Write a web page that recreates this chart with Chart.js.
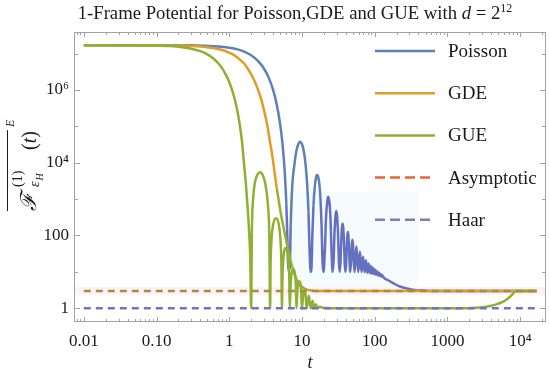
<!DOCTYPE html>
<html>
<head>
<meta charset="utf-8">
<script src="https://cdn.jsdelivr.net/npm/chart.js@4.4.0/dist/chart.umd.min.js"></script>
<style>
  html, body { margin: 0; padding: 0; background: #fff; }
  canvas { display: block; }
</style>
</head>
<body>
<canvas id="chart" width="550" height="381"></canvas>
<script>
// values (t on a log axis, F on a log axis)
const poissonT = [0.01, 0.1, 0.3, 0.5, 0.7, 1.0, 1.3, 1.6, 2.0, 2.5, 3.0, 3.5, 4.0, 4.5, 5.0, 5.4, 5.8, 6.1, 6.3, 6.45, 6.6,
  6.8, 7.0, 7.36, 7.8, 8.4, 9.0, 9.44, 10.0, 10.6, 11.2, 11.8, 12.3, 12.7, 13.2,
  13.5, 13.9, 14.4, 15.0, 15.6, 16.2, 16.8, 17.4, 18.0, 18.6, 19.2, 19.8,
  20.6, 21.45, 22.3, 22.9, 23.9, 24.75, 25.6, 26.4,
  27.2, 28.05, 28.9, 29.6, 30.4, 31.3, 32.2, 33,
  33.8, 34.65, 35.4, 36.2, 37.0, 37.9, 38.8, 39.6,
  40.4, 41.2, 42.0, 42.8, 43.6, 44.5, 45.4, 46.2,
  47.8, 48.6, 49.4, 50.3, 51.3, 52.8,
  54.4, 56.0, 57.7, 59.4,
  61.0, 62.6, 64.3, 66,
  69.2, 72.6, 75.8, 79.2, 82.4, 85.8, 89.0, 92.4, 95.6, 99, 102.3, 105.6, 108.9, 112.2,
  115.5, 118.8, 122.1, 125.4, 128.7, 132,
  150, 180, 220, 280, 350, 500, 800, 17000];
const poissonV = [1.68e7, 1.68e7, 1.675e7, 1.62e7, 1.56e7, 1.44e7, 1.30e7, 1.13e7, 9.0e6, 6.2e6, 3.87e6, 2.14e6, 1.02e6, 4.0e5, 1.19e5, 3.3e4, 5500, 720, 85, 16, 11,
  14, 180, 2400, 7600, 21500, 34000, 37400, 32600, 20700, 9100, 2450, 430, 45, 10,
  12, 100, 660, 2160, 3900, 4560, 3930, 2450, 940, 190, 18, 10,
  35, 330, 880, 1160, 800, 270, 30, 10,
  19, 125, 340, 470, 340, 120, 19, 10,
  17, 65, 160, 210, 160, 62, 16, 10,
  15, 40, 95, 125, 95, 40, 14, 10,
  27, 60, 75, 58, 25, 10,
  22, 50, 22, 10,
  19, 36, 19, 10,
  26, 9.8, 21, 9.5, 17, 9.2, 14.5, 8.9, 12.8, 8.6, 11.5, 8.3, 10.3, 8.0,
  9.4, 7.7, 8.6, 7.4, 7.9, 7.1,
  6.0, 4.9, 4.0, 3.5, 3.2, 3.05, 3.0, 3.0];

const gdeT = [0.01, 0.2, 0.4, 0.6, 0.8, 1.0, 1.2, 1.4, 1.6, 1.8, 2.0, 2.2, 2.4, 2.7, 3.0, 3.3, 3.6, 3.9, 4.2, 4.5,
  4.8, 5.1, 5.6, 6.0, 6.5, 7.0, 7.5, 8.0, 8.5, 9.5, 10.5, 12, 14, 17, 17000];
const gdeV = [1.68e7, 1.65e7, 1.56e7, 1.42e7, 1.25e7, 1.06e7, 8.7e6, 6.8e6, 5.3e6, 3.8e6, 2.7e6, 1.85e6, 1.23e6, 6.2e5, 2.8e5, 1.2e5, 4.2e4, 1.6e4, 5500, 2000,
  900, 420, 160, 80, 38, 20, 12, 8, 6, 4.3, 3.6, 3.2, 3.05, 3.0, 3.0];

const gueT = [0.01, 0.03, 0.06, 0.1, 0.15, 0.2, 0.3, 0.4, 0.5, 0.6, 0.7, 0.8, 0.9, 1.0, 1.1, 1.2, 1.3, 1.4, 1.5, 1.6, 1.7, 1.8, 1.88, 1.95, 2.0,
  2.05, 2.12, 2.25, 2.45, 2.65, 2.9, 3.15, 3.4, 3.55, 3.65,
  3.7, 3.8, 4.0, 4.4, 4.8, 5.05, 5.22, 5.3,
  5.4, 5.6, 6.0, 6.4, 6.7, 6.8,
  7.0, 7.2, 7.6, 8.0, 8.25, 8.4,
  8.7, 9.2, 9.7, 10.0, 10.4, 10.8, 11.2, 11.6, 12.4, 13.2, 14.0, 14.8, 15.6, 16.4, 17.5, 20,
  100, 1640, 2530, 3000, 3860, 4800, 5870, 6800, 7650, 8200, 8600, 17000];
const gueV = [1.68e7, 1.68e7, 1.67e7, 1.64e7, 1.6e7, 1.53e7, 1.36e7, 1.16e7, 9.5e6, 7.4e6, 5.5e6, 3.9e6, 2.6e6, 1.65e6, 9.6e5, 5.2e5, 2.5e5, 1.05e5, 3.7e4, 9000, 2400, 500, 120, 20, 1,
  150, 900, 2800, 4800, 5500, 4500, 2500, 700, 120, 1,
  15, 70, 190, 300, 200, 80, 15, 1,
  8, 28, 45, 28, 6, 1,
  5, 9, 12, 9, 4, 1,
  3.5, 5.5, 3.5, 1, 2.4, 3.3, 2.4, 1, 2.2, 1, 1.6, 1, 1.3, 1, 1.1, 1.02,
  1.0, 1.0, 1.04, 1.07, 1.16, 1.3, 1.52, 1.85, 2.3, 2.7, 3.0, 3.0];

const flatT = [0.01, 17000];
const asymptoticV = [3, 3];
const haarV = [1, 1];

const seriesNames = ['Poisson', 'GDE', 'GUE', 'Asymptotic', 'Haar'];
const legendColors = ['#5E81B5', '#E19C24', '#8FB032', '#EB6235', '#8778B3'];

const xTickValues = [0.01, 0.1, 1, 10, 100, 1000, 10000];
const xTickLabels = ['0.01', '0.10', '1', '10', '100', '1000', '10⁴'];
const yTickValues = [1, 100, 1e4, 1e6];
const yTickLabels = ['1', '100', '10⁴', '10⁶'];

const SERIF = '"Liberation Serif", "DejaVu Serif", serif';

function points(ts, vs) {
  return ts.map((t, i) => ({ x: t, y: vs[i] }));
}

const bandPlugin = {
  id: 'bands',
  beforeDatasetsDraw(chart) {
    const { ctx, chartArea: a, scales: { x, y } } = chart;
    ctx.save();
    ctx.fillStyle = '#f6fbfd';
    const x0 = x.getPixelForValue(6.6), x1 = x.getPixelForValue(400);
    const y0 = y.getPixelForValue(1600), y1 = y.getPixelForValue(3.8);
    ctx.fillRect(x0, y0, x1 - x0, y1 - y0);
    ctx.fillStyle = '#fcf2f5';
    const b0 = y.getPixelForValue(3.78), b1 = y.getPixelForValue(2.28);
    ctx.fillRect(a.left, b0, a.right - a.left, b1 - b0);
    ctx.restore();
  }
};

const framePlugin = {
  id: 'frame',
  afterDatasetsDraw(chart) {
    const { ctx, chartArea: a, scales: { x, y } } = chart;
    ctx.save();
    ctx.strokeStyle = '#a3a3a3';
    ctx.lineWidth = 1;
    ctx.strokeRect(a.left + 0.5, a.top + 0.5, a.right - a.left - 1, a.bottom - a.top - 1);
    ctx.beginPath();
    for (let e = -3; e <= 4; e++) {
      for (let m = 1; m <= 9; m++) {
        const v = m * Math.pow(10, e);
        if (v < x.min || v > x.max) continue;
        const px = Math.round(x.getPixelForValue(v)) + 0.5;
        const len = m === 1 ? 5 : 3;
        ctx.moveTo(px, a.bottom); ctx.lineTo(px, a.bottom - len);
        ctx.moveTo(px, a.top); ctx.lineTo(px, a.top + len);
      }
    }
    for (let e = 0; e <= 7; e++) {
      const py = Math.round(y.getPixelForValue(Math.pow(10, e))) + 0.5;
      const len = e % 2 === 0 ? 6 : 4;
      ctx.moveTo(a.left, py); ctx.lineTo(a.left + len, py);
      ctx.moveTo(a.right, py); ctx.lineTo(a.right - len, py);
    }
    ctx.stroke();
    ctx.restore();
  }
};

// draws a run of text pieces, returns the end x
function drawRun(ctx, pieces, x, y) {
  pieces.forEach(p => {
    ctx.font = p.font;
    ctx.fillText(p.s, x, y + (p.dy || 0));
    x += ctx.measureText(p.s).width;
  });
  return x;
}

const textPlugin = {
  id: 'texts',
  afterDraw(chart) {
    const { ctx, chartArea: a } = chart;
    ctx.save();
    ctx.fillStyle = '#1a1a1a';
    ctx.textBaseline = 'alphabetic';
    ctx.textAlign = 'left';

    // title
    const title = [
      { s: '1-Frame Potential for Poisson,GDE and GUE with ', font: '18.7px ' + SERIF },
      { s: 'd', font: 'italic 18.7px ' + SERIF },
      { s: ' = 2', font: '18.7px ' + SERIF },
      { s: '12', font: '12px ' + SERIF, dy: -7 }
    ];
    let w = 0;
    title.forEach(p => { ctx.font = p.font; w += ctx.measureText(p.s).width; });
    drawRun(ctx, title, 295 - w / 2, 19);

    // x axis title
    ctx.font = 'italic 18px ' + SERIF;
    ctx.textAlign = 'center';
    ctx.fillText('t', (a.left + a.right) / 2, 368);
    ctx.textAlign = 'left';

    // y axis title, rotated (local x runs up the page)
    ctx.save();
    ctx.translate(36, 212);
    ctx.rotate(-Math.PI / 2);
    ctx.font = 'italic 22px ' + SERIF;
    ctx.fillText('ℱ', 1, 0);
    ctx.font = '14px ' + SERIF;
    ctx.fillText('(1)', 25, -14);
    ctx.font = 'italic 14px ' + SERIF;
    ctx.fillText('ε', 25, 3);
    const ew = ctx.measureText('ε').width;
    ctx.font = 'italic 10px ' + SERIF;
    ctx.fillText('H', 26 + ew, 7);
    const tx = drawRun(ctx, [
      { s: '(', font: '20px ' + SERIF },
      { s: 't', font: 'italic 20px ' + SERIF },
      { s: ')', font: '20px ' + SERIF }
    ], 62, 0);
    ctx.strokeStyle = '#1a1a1a';
    ctx.lineWidth = 1;
    ctx.beginPath();
    ctx.moveTo(1, -28.5); ctx.lineTo(tx + 1, -28.5);
    ctx.stroke();
    ctx.font = 'italic 12px ' + SERIF;
    ctx.fillText('E', tx + 4, -22);
    ctx.restore();

    // legend
    const lx0 = 375, lx1 = 435, textX = 448;
    ctx.textBaseline = 'middle';
    chart.data.datasets.forEach((ds, i) => {
      const ly = 51 + i * 42.2;
      const dashed = ds.borderDash && ds.borderDash.length;
      ctx.strokeStyle = legendColors[i];
      ctx.lineWidth = 2.5;
      ctx.setLineDash(dashed ? [10, 5] : []);
      ctx.beginPath();
      ctx.moveTo(lx0, ly); ctx.lineTo(dashed ? 431 : lx1, ly);
      ctx.stroke();
      ctx.setLineDash([]);
      ctx.font = '19px ' + SERIF;
      ctx.fillStyle = '#1a1a1a';
      ctx.fillText(seriesNames[i], textX, ly + 1);
    });
    ctx.restore();
  }
};

const lineBase = { pointRadius: 0, borderWidth: 2.5, fill: false, cubicInterpolationMode: 'monotone', borderJoinStyle: 'round' };

new Chart(document.getElementById('chart'), {
  type: 'line',
  data: {
    datasets: [
      Object.assign({}, lineBase, {
        label: seriesNames[0], data: points(poissonT, poissonV), borderColor: '#5E81B5', order: 4,
        segment: { borderColor: c => (c.p0.parsed.y < 1800 && c.p1.parsed.y < 1800) ? '#6670C0' : '#5E81B5' }
      }),
      Object.assign({}, lineBase, {
        label: seriesNames[1], data: points(gdeT, gdeV), borderColor: '#E19C24', order: 3,
        segment: { borderColor: c => (Math.max(c.p0.parsed.y, c.p1.parsed.y) < 2500 && Math.min(c.p0.parsed.y, c.p1.parsed.y) > 3.15) ? '#96B132' : '#E19C24' }
      }),
      Object.assign({}, lineBase, {
        label: seriesNames[2], data: points(gueT, gueV), borderColor: '#8FB032', order: 2
      }),
      Object.assign({}, lineBase, {
        label: seriesNames[3], data: points(flatT, asymptoticV), borderColor: '#A58E3E', borderDash: [7, 5], order: 1,
        cubicInterpolationMode: 'default', tension: 0
      }),
      Object.assign({}, lineBase, {
        label: seriesNames[4], data: points(flatT, haarV), borderColor: '#7474C4', borderDash: [7, 5], order: 0,
        cubicInterpolationMode: 'default', tension: 0
      })
    ]
  },
  options: {
    responsive: false,
    animation: false,
    devicePixelRatio: 1,
    layout: { padding: { top: 32, right: 4, left: 0, bottom: 0 } },
    scales: {
      x: {
        type: 'logarithmic', min: 0.00733, max: 22700,
        afterBuildTicks: s => { s.ticks = xTickValues.map(v => ({ value: v })); },
        afterFit: s => { s.height = 59; },
        grid: { display: false, drawTicks: false }, border: { display: false },
        ticks: {
          autoSkip: false, maxRotation: 0, padding: 9, color: '#1a1a1a',
          font: { family: SERIF, size: 17 },
          callback: v => xTickLabels[xTickValues.indexOf(v)]
        }
      },
      y: {
        type: 'logarithmic', min: 0.42, max: 3.9e7,
        afterBuildTicks: s => { s.ticks = yTickValues.map(v => ({ value: v })); },
        afterFit: s => { s.width = 74; },
        grid: { display: false, drawTicks: false }, border: { display: false },
        ticks: {
          autoSkip: false, padding: 5, color: '#1a1a1a',
          font: { family: SERIF, size: 17 },
          callback: v => yTickLabels[yTickValues.indexOf(v)]
        }
      }
    },
    plugins: { legend: { display: false }, tooltip: { enabled: false } }
  },
  plugins: [bandPlugin, framePlugin, textPlugin]
});
</script>
</body>
</html>
